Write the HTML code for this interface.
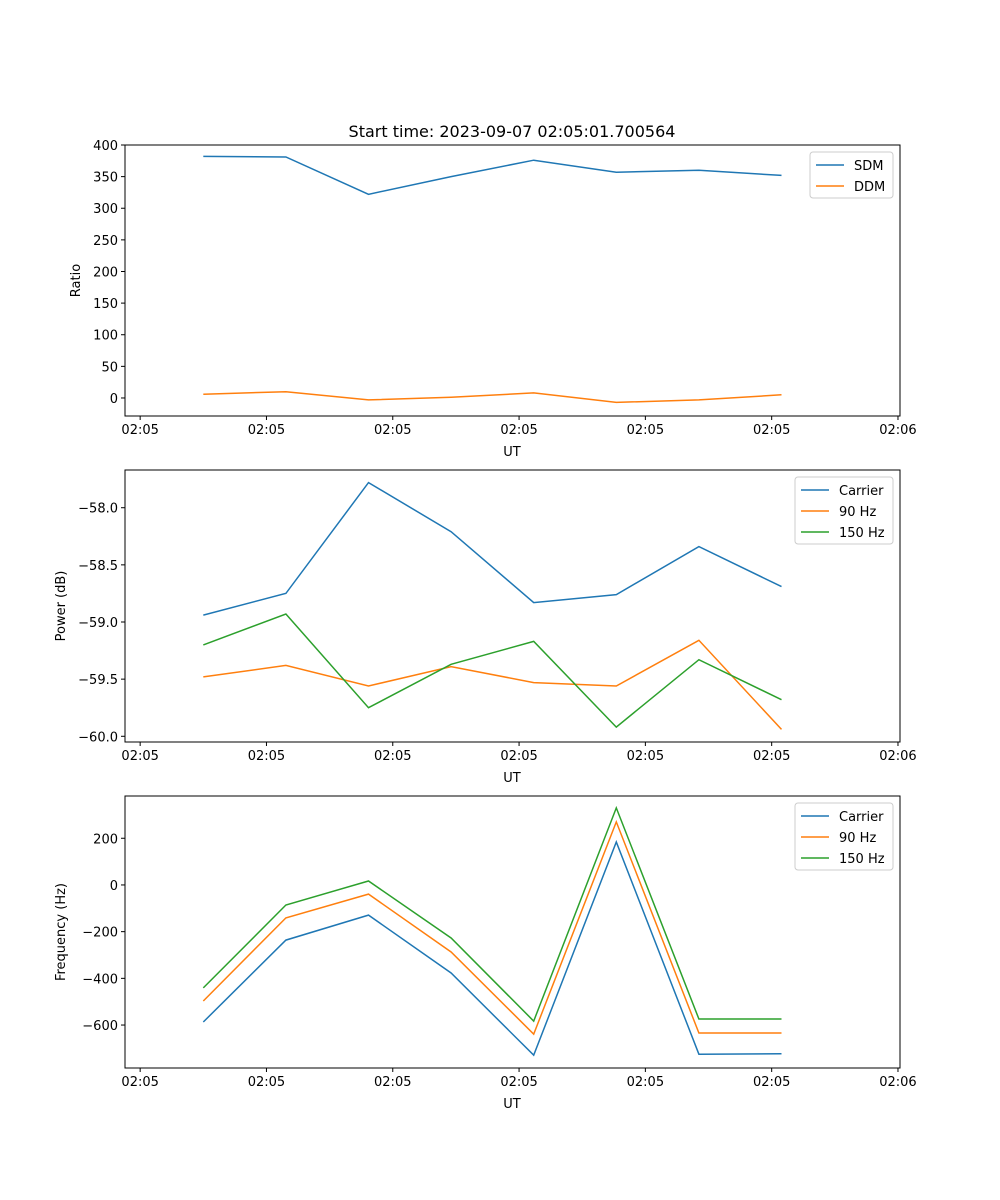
<!DOCTYPE html>
<html><head><meta charset="utf-8"><style>
body{margin:0;background:#fff}
svg{display:block;font-family:"DejaVu Sans","Liberation Sans",sans-serif}
</style></head><body>
<svg id="fig" width="1000" height="1200"></svg>
<script>
const times=[5.0,11.54,18.08,24.62,31.16,37.7,44.24,50.78];
const xTickVals=[0,10,20,30,40,50,60];
const xTickLabels=["02:05","02:05","02:05","02:05","02:05","02:05","02:06"];
const sdm=[382,381,322,350,376,357,360,352];
const ddm=[6,10,-3,1,8,-7,-3,5];
const powCarrier=[-58.94,-58.75,-57.78,-58.21,-58.83,-58.76,-58.34,-58.69];
const pow90=[-59.48,-59.38,-59.56,-59.39,-59.53,-59.56,-59.16,-59.94];
const pow150=[-59.20,-58.93,-59.75,-59.37,-59.17,-59.92,-59.33,-59.68];
const freqCarrier=[-587,-236,-129,-377,-729,184,-725,-723];
const freq90=[-497,-141,-39,-287,-639,270,-634,-634];
const freq150=[-441,-86,17,-227,-583,330,-574,-574];
const yTicks1=[0,50,100,150,200,250,300,350,400];
const yTicks2=[-60.0,-59.5,-59.0,-58.5,-58.0];
const yTicks3=[-600,-400,-200,0,200];

const NS="http://www.w3.org/2000/svg";
const svg=document.getElementById('fig');
function el(tag,attrs,parent,text){const e=document.createElementNS(NS,tag);for(const k in attrs)e.setAttribute(k,attrs[k]);if(text!==undefined)e.textContent=text;(parent||svg).appendChild(e);return e;}
const X0=125,X1=900,XMIN=-1.2,XMAX=60.16;
const xs=t=>X0+(t-XMIN)/(XMAX-XMIN)*(X1-X0);
const C=["#1f77b4","#ff7f0e","#2ca02c"];

function panel(name,top,bot,ymin,ymax,yticks,fmt,ylabel,series,labels,legW,title){
  const g=el('g',{});
  
  
  const ys=v=>bot-(v-ymin)/(ymax-ymin)*(bot-top);
  series.forEach((s,i)=>{
    const p=el('polyline',{points:s.map((v,j)=>xs(times[j]).toFixed(1)+','+ys(v).toFixed(1)).join(' '),fill:'none',stroke:C[i],'stroke-width':1.5},g);
    
    
  });
  const fr=el('rect',{x:X0,y:top,width:X1-X0,height:bot-top,fill:'none',stroke:'#000','stroke-width':1},g);
  
  
  xTickVals.forEach((t,i)=>{const x=xs(t);
    el('line',{x1:x,y1:bot,x2:x,y2:bot+4,stroke:'#000'},g);
    const tl=el('text',{x:x,y:bot+18,'font-size':13,'text-anchor':'middle'},g,xTickLabels[i]);
    
    });
  const xl=el('text',{x:512,y:bot+40,'font-size':13,'text-anchor':'middle'},g,'UT');
  
  
  yticks.forEach(v=>{const y=ys(v);
    el('line',{x1:X0-4,y1:y,x2:X0,y2:y,stroke:'#000'},g);
    const tl=el('text',{x:X0-7,y:y+5,'font-size':13,'text-anchor':'end'},g,fmt(v));
    
    });
  const cy=(top+bot)/2;
  const lx=ylabel.length>6?65:80;
  const yl=el('text',{x:lx,y:cy,'font-size':13,'text-anchor':'middle',transform:`rotate(-90 ${lx} ${cy})`},g,ylabel);
  
  
  const lh=21*labels.length+4, lx0=X1-7-legW, ly0=top+7;
  const lg=el('g',{},g);
  
  
  el('rect',{x:lx0,y:ly0,width:legW,height:lh,rx:3,fill:'#fff',stroke:'#ccc'},lg);
  labels.forEach((l,i)=>{const y=ly0+13+21*i;
    el('line',{x1:lx0+6,y1:y,x2:lx0+34,y2:y,stroke:C[i],'stroke-width':1.5},lg);
    const t=el('text',{x:lx0+44,y:y+5,'font-size':13},lg,l);
    
    });
  if(title){const tt=el('text',{x:512,y:top-8,'font-size':16,'text-anchor':'middle'},g,title);
    
    }
}
panel('ratio',145,416,-28.5,400,yTicks1,v=>String(v),'Ratio',[sdm,ddm],['SDM','DDM'],83,'Start time: 2023-09-07 02:05:01.700564');
panel('power',470,742,-60.05,-57.67,yTicks2,v=>'\u2212'.repeat(v<0?1:0)+Math.abs(v).toFixed(1),'Power (dB)',[powCarrier,pow90,pow150],['Carrier','90 Hz','150 Hz'],98);
panel('frequency',796,1068,-784,381,yTicks3,v=>(v<0?'\u2212':'')+Math.abs(v),'Frequency (Hz)',[freqCarrier,freq90,freq150],['Carrier','90 Hz','150 Hz'],98);
</script>
</body></html>
